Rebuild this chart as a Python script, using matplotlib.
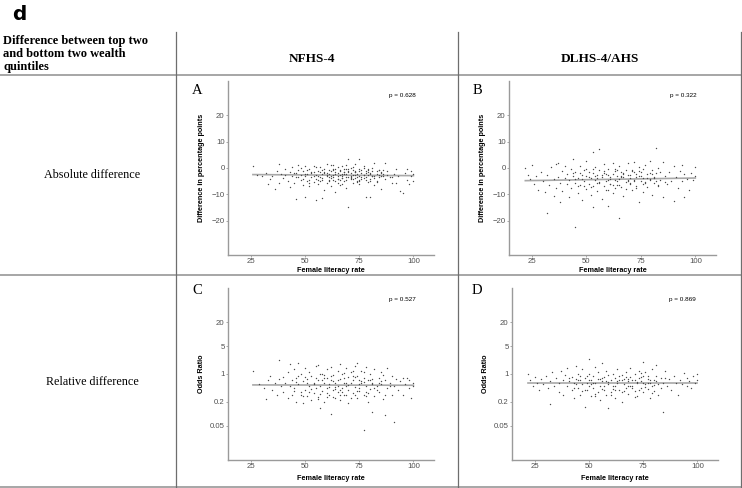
import numpy as np
import matplotlib
matplotlib.use("Agg")
import matplotlib.pyplot as plt
from matplotlib.lines import Line2D

# ---- data ----
a_x = [26, 28, 30, 32, 33, 34, 35, 36, 37, 38, 38, 39, 40, 41, 41, 42, 43, 43, 44, 44,
       45, 45, 46, 46, 47, 47, 48, 48, 49, 49, 50, 50, 50, 51, 51, 52, 52, 53, 53, 54,
       54, 55, 55, 55, 56, 56, 57, 57, 58, 58, 58, 59, 59, 60, 60, 60, 61, 61, 62, 62,
       62, 63, 63, 63, 64, 64, 64, 65, 65, 65, 66, 66, 66, 67, 67, 67, 68, 68, 68, 69,
       69, 69, 70, 70, 70, 70, 71, 71, 71, 72, 72, 72, 73, 73, 73, 74, 74, 75, 75, 75,
       75, 76, 76, 77, 77, 78, 78, 78, 79, 79, 80, 80, 80, 81, 81, 82, 82, 83, 83, 84,
       84, 85, 85, 86, 87, 87, 88, 89, 90, 91, 92, 92, 93, 94, 95, 96, 97, 97, 98, 99,
       99, 100, 100]
a_y = [0.8, -2.5, -3.2, -1.8, -6.0, -4.2, -2.9, -7.8, -1.2, 1.5, -5.5, -2.2, -3.8, -0.5, -2.7, -4.9, -1.6, -7.2, -3.1, 0.4,
       -2.0, -5.8, -11.9, -3.5, -0.9, 1.2, -4.4, -2.6, -6.5, -1.3, -11.1, -3.0, 0.6, -4.8, -2.1, -0.3, -7.0, -3.6, -1.5, -5.2,
       0.9, -12.2, -2.8, -4.0, -1.0, -6.1, -3.3, 0.2, -11.3, -2.4, -4.7, -1.8, -8.5, -3.0, 1.5, -5.5, -2.2, -0.6, -3.9, -6.8,
       1.0, -2.6, -4.4, -0.2, -1.4, -5.1, -9.0, -3.2, 0.5, -2.0, -4.6, -1.1, -6.4, -2.9, 0.9, -3.7, -1.6, -5.0, -0.4, -2.3,
       -7.5, 1.2, -14.8, -3.4, -1.0, 3.6, -4.2, -2.0, 0.0, -5.6, -2.7, -0.8, -3.8, 1.4, -1.5, -4.9, -2.4, 3.3, -0.5, -3.1,
       -6.0, -1.9, -4.0, 0.8, -2.6, -10.9, -3.5, -1.2, -5.4, -0.3, -2.2, -11.1, -4.3, -1.0, -3.0, 2.0, -6.5, -2.1, -4.8, -0.6,
       -3.4, -1.8, -7.8, -2.9, 2.0, -4.1, -1.3, -3.6, -5.5, -2.4, -5.6, -0.4, -3.0, -8.6, -9.4, -2.0, -0.5, -4.4, -6.2, -1.2,
       -3.1, -2.3, -5.0]
# denser middle of the NFHS-4 cloud
a_x_more = [46, 47, 48, 49, 50, 51, 52, 53, 54, 55, 56, 57, 58, 59, 60, 61, 62, 63, 64, 65,
            66, 67, 68, 69, 70, 71, 72, 73, 74, 75, 76, 77, 78, 79, 80, 81, 82, 83, 84, 85,
            86, 88, 90,
            52, 54, 56, 58, 60, 61, 62, 63, 64, 65, 66, 67, 68, 69, 70, 71, 72, 73, 74, 75,
            76, 77, 78, 79, 80, 82, 84, 86,
            57, 59, 61, 63, 65, 67, 69, 71, 73, 75, 77, 79, 81, 83, 85]
a_y_more = [-1.9, -3.4, 0.1, -4.1, -2.3, -0.7, -5.5, -2.0, -3.0, 0.4, -4.5, -1.7, -3.8, -0.4, -2.8, -4.9, -1.2, -3.3, -0.5, -4.0,
            -2.5, -5.9, -1.4, -3.6, -0.2, -2.9, -4.3, -1.0, -3.5, -5.0, -0.7, -3.9, -2.0, -1.5, -4.8, -0.1, -3.2, -1.1, -2.5, -3.0,
            -0.8, -2.6, -3.3,
            -4.6, -1.7, -3.0, -0.9, -2.0, -4.4, -3.1, 1.2, -2.4, -5.6, -0.8, -3.9, -2.1, -4.7, -1.5, -3.6, 0.5, -2.5, -5.2, -1.3,
            -3.3, -0.1, -4.5, -2.8, -1.9, -3.7, -0.9, -2.3,
            -5.0, -1.4, -3.5, -0.6, -4.2, -2.2, -0.3, -3.9, -1.7, -4.6, -2.8, -0.7, -3.2, -5.3, -1.6]

b_x = [22, 23, 24, 25, 26, 27, 28, 29, 30, 31, 32, 32, 33, 34, 35, 35, 36, 36, 37, 37,
       38, 38, 39, 39, 40, 40, 41, 41, 42, 42, 43, 43, 44, 44, 45, 45, 45, 46, 46, 47,
       47, 48, 48, 49, 49, 50, 50, 50, 51, 51, 52, 52, 53, 53, 53, 53, 54, 54, 55, 55,
       56, 56, 56, 57, 57, 58, 58, 59, 59, 60, 60, 60, 61, 61, 62, 62, 62, 63, 63, 64,
       64, 65, 65, 65, 66, 66, 67, 67, 68, 68, 69, 69, 70, 70, 71, 71, 72, 72, 73, 73,
       74, 74, 74, 75, 75, 76, 76, 77, 77, 78, 78, 79, 79, 80, 80, 81, 81, 82, 82, 83,
       83, 84, 85, 85, 86, 87, 88, 89, 90, 90, 91, 92, 93, 94, 94, 95, 95, 96, 97, 98,
       99, 100, 100]
b_y = [0.0, -2.5, -4.0, 1.2, -6.2, -3.1, -8.4, -1.5, -5.0, -9.0, -17.0, -2.8, -6.5, 0.5, -4.2, -10.5, 1.5, -7.5, 2.0, -3.3,
       -12.9, -5.8, -1.0, -8.8, -3.9, 0.8, -6.1, -2.2, -11.0, -4.6, -0.4, -7.7, 3.3, -3.0, -22.4, -5.5, -1.6, -9.6, -3.7, 0.9,
       -6.4, -2.5, -12.0, -4.8, -0.8, -8.0, 2.7, -3.2, -5.9, -1.4, -10.2, -3.9, 6.1, -14.8, -6.8, -2.0, -4.5, 0.3, -8.7, -2.7,
       7.1, -5.2, -0.9, -11.6, -3.6, -6.9, 1.4, -2.3, -4.9, -14.4, -8.2, -0.5, -3.4, -6.0, 1.9, -2.1, -9.5, -4.4, -0.2, -6.6,
       -2.9, -19.0, -4.0, 0.9, -7.3, -1.7, -3.5, -10.8, -5.4, -0.6, -2.6, 1.8, -6.2, -3.9, -1.2, -8.4, 2.3, -4.7, -2.4, -6.9,
       -12.9, -3.1, 0.4, -5.1, -1.6, -9.2, -3.7, 1.1, -5.8, -2.2, -7.1, 2.8, -4.2, -0.7, -10.1, -3.3, -5.6, 7.6, -2.0, -6.7,
       -0.1, -4.4, -11.0, 2.2, -3.0, -6.2, -1.4, -4.8, -12.5, 0.6, -3.6, -7.5, -1.0, 1.0, -5.1, -11.0, -2.4, -4.0, -8.3, -1.8,
       -4.6, 0.5, -3.2]
b_x_more = [44, 46, 48, 50, 52, 54, 56, 58, 60, 62, 64, 66, 68, 70, 72, 74, 76, 78, 80, 82,
            84, 86,
            45, 47, 49, 51, 53, 55, 57, 59, 61, 63, 65, 67, 69, 71, 73, 75, 77, 79, 81, 83,
            55, 58, 61, 64, 67, 70, 73, 76, 79, 60, 63, 66, 69, 72]
b_y_more = [-2.0, -6.8, -4.1, -0.5, -7.2, -3.0, -5.6, -1.8, -4.6, -6.3, -0.9, -3.3, -7.9, -2.7, -5.0, -1.1, -6.1, -3.9, -2.4, -4.9,
            -1.5, -5.3,
            -4.3, -1.8, -7.0, -3.5, -0.2, -5.8, -2.6, -8.5, -4.2, -1.3, -6.4, -2.0, -4.6, -0.8, -7.4, -3.0, -5.2, -1.9, -3.8, -6.6,
            -3.9, -1.0, -6.0, -4.8, -2.4, -5.7, -3.6, -0.4, -4.4, -2.8, -7.7, -3.2, -5.0, -1.6]

c_x = [26, 29, 31, 32, 33, 34, 35, 36, 37, 38, 38, 39, 40, 40, 41, 42, 42, 43, 43, 44,
       44, 45, 45, 46, 46, 47, 47, 48, 48, 49, 49, 50, 50, 51, 51, 52, 52, 53, 53, 54,
       54, 55, 55, 56, 56, 56, 57, 57, 58, 58, 59, 59, 60, 60, 60, 61, 61, 62, 62, 62,
       63, 63, 64, 64, 65, 65, 65, 66, 66, 66, 67, 67, 68, 68, 69, 69, 70, 70, 70, 71,
       71, 72, 72, 73, 73, 74, 74, 74, 75, 75, 76, 76, 77, 77, 77, 78, 78, 79, 79, 80,
       80, 81, 81, 82, 82, 83, 84, 84, 85, 85, 86, 87, 87, 88, 88, 89, 90, 90, 91, 91,
       92, 93, 94, 95, 95, 96, 97, 98, 98, 99, 100, 100]
c_y = [1.2, 0.55, 0.45, 0.23, 0.7, 0.9, 0.4, 0.6, 0.3, 2.2, 0.75, 0.5, 0.85, 0.35, 0.6, 0.25, 1.1, 1.8, 0.5, 0.7,
       0.3, 0.45, 1.3, 0.2, 0.8, 1.9, 0.55, 0.35, 1.0, 0.65, 0.18, 0.4, 1.4, 0.75, 0.28, 0.5, 1.1, 0.22, 0.9, 0.6,
       0.33, 1.6, 0.45, 1.7, 0.7, 0.26, 0.14, 0.5, 1.0, 0.38, 0.6, 0.2, 1.3, 0.45, 0.8, 0.3, 0.55, 0.1, 1.5, 0.7,
       0.4, 0.95, 0.25, 0.6, 1.2, 0.35, 0.5, 1.8, 0.75, 0.22, 0.45, 1.0, 0.6, 0.3, 1.4, 0.5, 0.85, 0.18, 0.4, 1.1,
       0.6, 0.33, 0.7, 1.6, 0.48, 1.9, 0.25, 0.9, 0.55, 0.38, 1.2, 0.65, 0.039, 0.3, 0.8, 0.5, 1.5, 0.2, 0.7, 0.42,
       1.0, 0.11, 0.6, 0.28, 1.3, 0.5, 0.8, 0.35, 1.1, 0.55, 0.24, 0.094, 0.7, 1.4, 0.45, 0.6, 0.3, 0.9, 0.061, 0.5,
       0.75, 0.4, 0.65, 0.8, 0.3, 0.55, 0.8, 0.45, 0.7, 0.25, 0.6, 0.5]
c_x_more = [45, 47, 49, 51, 53, 55, 57, 59, 61, 63, 65, 67, 69, 71, 73, 75, 77, 79, 81, 83,
            85, 87, 89,
            46, 48, 50, 52, 54, 56, 58, 60, 62, 64, 66, 68, 70, 72, 74, 76, 78, 80, 82, 84,
            86,
            57, 60, 63, 66, 69, 72, 75, 78, 81, 59, 64, 68, 73, 77]
c_y_more = [0.38, 0.9, 0.28, 0.6, 0.42, 0.8, 0.32, 0.95, 0.48, 0.27, 0.7, 0.36, 0.6, 0.25, 0.85, 0.45, 1.1, 0.34, 0.75, 0.4,
            0.65, 0.3, 0.5,
            0.62, 0.3, 0.85, 0.36, 0.55, 0.24, 0.72, 0.33, 0.9, 0.46, 0.3, 0.8, 0.52, 1.2, 0.37, 0.6, 0.28, 0.7, 0.45, 0.58,
            0.95,
            1.0, 0.26, 0.65, 0.4, 0.3, 0.9, 0.7, 0.35, 0.55, 0.8, 0.42, 1.05, 0.29, 0.62]

d_x = [22, 23, 24, 25, 26, 27, 28, 29, 30, 31, 32, 32, 33, 34, 35, 36, 36, 37, 38, 38,
       39, 40, 40, 41, 42, 42, 43, 43, 44, 44, 45, 45, 46, 46, 47, 47, 48, 48, 49, 49,
       50, 50, 50, 51, 51, 52, 52, 53, 53, 54, 54, 55, 55, 56, 56, 57, 57, 58, 58, 59,
       59, 60, 60, 61, 61, 62, 62, 63, 63, 64, 64, 65, 65, 66, 66, 67, 67, 68, 68, 69,
       69, 70, 70, 71, 71, 72, 72, 73, 73, 74, 74, 75, 75, 75, 76, 76, 77, 77, 78, 78,
       79, 79, 80, 80, 81, 81, 82, 82, 83, 84, 84, 85, 86, 87, 88, 89, 90, 91, 92, 93,
       94, 95, 95, 96, 97, 98, 99, 100, 100]
d_y = [1.0, 0.7, 0.5, 0.85, 0.6, 0.4, 0.75, 0.55, 0.9, 0.45, 0.17, 0.65, 1.1, 0.5, 0.8, 0.35, 0.6, 1.2, 0.7, 0.3,
       0.95, 0.5, 1.4, 0.65, 0.4, 0.85, 0.25, 0.6, 1.6, 0.75, 0.45, 1.0, 0.3, 0.7, 0.55, 1.3, 0.15, 0.8, 0.4, 0.6,
       2.4, 1.0, 0.5, 0.7, 0.28, 0.9, 0.45, 0.6, 1.5, 0.35, 0.75, 0.5, 0.22, 1.9, 0.65, 0.4, 0.85, 0.3, 1.2, 0.14,
       0.55, 0.7, 0.35, 1.0, 0.5, 0.25, 0.8, 0.6, 1.3, 0.4, 0.7, 0.2, 0.95, 0.55, 0.75, 1.1, 0.45, 0.65, 0.32, 0.85,
       1.4, 0.5, 0.7, 0.38, 1.0, 0.6, 0.28, 0.8, 1.2, 0.45, 0.65, 2.0, 0.9, 0.35, 0.55, 1.1, 0.75, 0.42, 0.6, 0.25,
       1.3, 0.5, 0.7, 0.38, 1.7, 0.9, 0.55, 0.3, 0.8, 0.11, 0.6, 1.2, 0.5, 0.75, 0.4, 0.9, 0.6, 0.3, 0.7, 0.55,
       1.05, 0.5, 0.8, 0.65, 0.45, 0.9, 0.6, 1.0, 0.7]
d_x_more = [41, 43, 45, 47, 49, 51, 53, 55, 57, 59, 61, 63, 65, 67, 69, 71, 73, 75, 77, 79,
            81, 83, 85,
            44, 46, 48, 50, 52, 54, 56, 58, 60, 62, 64, 66, 68, 70, 72, 74, 76, 78, 80,
            53, 56, 59, 62, 65, 68, 71, 74, 77]
d_y_more = [0.8, 0.45, 0.7, 0.38, 0.9, 0.55, 0.32, 0.75, 0.5, 0.95, 0.42, 0.65, 0.36, 0.85, 0.5, 0.7, 0.4, 0.6, 0.9, 0.33,
            0.65, 0.45, 0.8,
            0.55, 0.9, 0.4, 0.7, 0.6, 1.1, 0.42, 0.68, 0.3, 0.5, 0.88, 0.38, 0.75, 0.45, 0.62, 1.05, 0.48, 0.72, 0.52,
            0.28, 0.8, 0.62, 0.4, 0.7, 0.5, 0.26, 0.85, 0.58]

# fitted lines (start and end of each)
a_fit_x, a_fit_y = [26, 100], [-2.5, -2.9]
b_fit_x, b_fit_y = [22, 100], [-4.8, -3.8]
c_fit_x, c_fit_y = [26, 100], [0.53, 0.52]
d_fit_x, d_fit_y = [22, 100], [0.6, 0.6]

p_values = ["p = 0.628", "p = 0.322", "p = 0.527", "p = 0.869"]
panel_letters = ["A", "B", "C", "D"]
x_ticks = [25, 50, 75, 100]
diff_ticks = [-20, -10, 0, 10, 20]
or_ticks = [0.05, 0.2, 1, 5, 20]
or_tick_labels = ["0.05", "0.2", "1", "5", "20"]

W, H = 742, 488
fig = plt.figure(figsize=(W / 100, H / 100), dpi=100)

SERIF = "Liberation Serif"
SANS = "Liberation Sans"


def px_rect(left, top, right, bottom):
    return [left / W, 1 - bottom / H, (right - left) / W, (bottom - top) / H]


def hline(y, x0=0, x1=W, color="#a6a6a6", lw=1.4):
    fig.add_artist(Line2D([x0 / W, x1 / W], [1 - y / H, 1 - y / H], color=color, lw=lw))


def vline(x, y0=32, y1=H, color="#6e6e6e", lw=0.9):
    fig.add_artist(Line2D([x / W, x / W], [1 - y0 / H, 1 - y1 / H], color=color, lw=lw))


# table grid
hline(75)
hline(274.5)
hline(486.5)
vline(176)
vline(458)
vline(741)

# header text
fig.text(12 / W, 1 - 5 / H, "d", fontsize=14.5, fontweight="bold", family="DejaVu Sans",
         va="top", ha="left")
fig.text(3 / W, 1 - 35 / H, "Difference between top two\nand bottom two wealth\nquintiles",
         fontsize=9, fontweight="bold", family=SERIF, va="top", ha="left", linespacing=1.1)
fig.text(312 / W, 1 - 59 / H, "NFHS-4", fontsize=9.5, fontweight="bold", family=SERIF,
         ha="center", va="center")
fig.text(600 / W, 1 - 59 / H, "DLHS-4/AHS", fontsize=9.5, fontweight="bold", family=SERIF,
         ha="center", va="center")
fig.text(92 / W, 1 - 175 / H, "Absolute difference", fontsize=8.7, family=SERIF,
         ha="center", va="center")
fig.text(92 / W, 1 - 382 / H, "Relative difference", fontsize=8.7, family=SERIF,
         ha="center", va="center")

panels = [
    (a_x + a_x_more, a_y + a_y_more, a_fit_x, a_fit_y, px_rect(228, 81, 434, 255), "diff",
     (197, 90), (402, 95), -0.07),
    (b_x + b_x_more, b_y + b_y_more, b_fit_x, b_fit_y, px_rect(509, 81, 716, 255), "diff",
     (477, 90), (683, 95), -0.07),
    (c_x + c_x_more, c_y + c_y_more, c_fit_x, c_fit_y, px_rect(228, 288, 434, 460), "or",
     (197, 290), (402, 299), -0.087),
    (d_x + d_x_more, d_y + d_y_more, d_fit_x, d_fit_y, px_rect(512, 288, 718, 460), "or",
     (477, 290), (682, 299), -0.087),
]

for i, (xs, ys, fx, fy, rect, kind, lpos, ppos, xlab_y) in enumerate(panels):
    ax = fig.add_axes(rect)
    ax.scatter(xs, ys, s=1.0, color="#4a4a4a", linewidths=0, zorder=3)
    ax.plot(fx, fy, color="#a8a8a8", lw=1.2, zorder=2)
    ax.set_xlim(14.5, 109.5)
    ax.set_xticks(x_ticks)
    if kind == "diff":
        ax.set_ylim(-33, 33)
        ax.set_yticks(diff_ticks)
        ax.set_ylabel("Difference in percentage points", fontsize=5.2, fontweight="bold",
                      family=SANS)
    else:
        ax.set_yscale("log")
        ax.set_ylim(np.exp(-5), np.exp(5))
        ax.set_yticks(or_ticks)
        ax.set_yticklabels(or_tick_labels)
        ax.minorticks_off()
        ax.set_ylabel("Odds Ratio", fontsize=5.2, fontweight="bold", family=SANS)
    ax.set_xlabel("Female literacy rate", fontsize=5.2, fontweight="bold", family=SANS)
    ax.yaxis.set_label_coords(-0.112, 0.5)
    ax.xaxis.set_label_coords(0.5, xlab_y)
    for s in ["top", "right"]:
        ax.spines[s].set_visible(False)
    for s in ["left", "bottom"]:
        ax.spines[s].set_color("#9a9a9a")
        ax.spines[s].set_linewidth(1.0)
    ax.tick_params(labelsize=5.6, colors="#9a9a9a", labelcolor="#505050", length=1.6,
                   width=0.6, pad=0.8)
    for lab in ax.get_xticklabels() + ax.get_yticklabels():
        lab.set_family(SANS)
    fig.text(lpos[0] / W, 1 - lpos[1] / H, panel_letters[i], fontsize=10.5, family=SERIF,
             ha="center", va="center")
    fig.text(ppos[0] / W, 1 - ppos[1] / H, p_values[i], fontsize=4.6, family=SANS,
             ha="center", va="center")

fig.savefig("out.png", dpi=100)
